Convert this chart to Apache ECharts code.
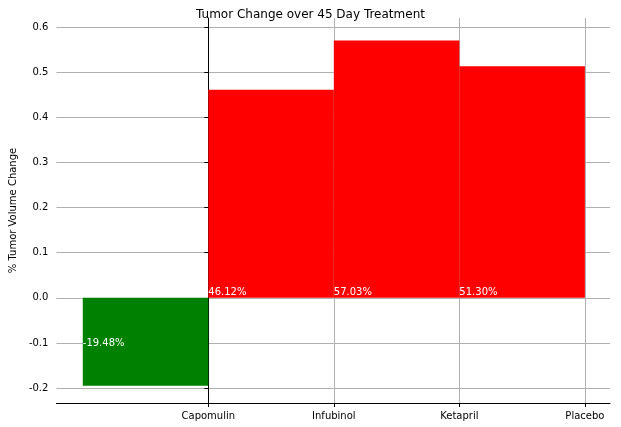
<!DOCTYPE html><html><head><meta charset="utf-8"><script src="https://cdn.jsdelivr.net/npm/echarts@6/dist/echarts.min.js"></script></head><body style="margin:0"><div id="c" style="width:621px;height:427px"></div><script>
const categories=['Capomulin','Infubinol','Ketapril','Placebo'];
const values=[-0.1948,0.4612,0.5703,0.5130];
const labels=['-19.48%','46.12%','57.03%','51.30%'];
const yTicks=[-0.2,-0.1,0,0.1,0.2,0.3,0.4,0.5,0.6];
const c=echarts.init(document.getElementById('c'));
const data=values.map((v,i)=>[i,v]);
c.setOption({animation:false,
title:{text:'Tumor Change over 45 Day Treatment',left:'center',top:4,textStyle:{fontSize:12,fontWeight:'normal',color:'#000',fontFamily:'DejaVu Sans'}},
grid:{left:52,right:11,top:18,bottom:24},
xAxis:{type:'value',min:-1.21,max:3.2,
 axisLine:{show:true,onZero:false,lineStyle:{color:'#000'}},
 axisTick:{customValues:[0,1,2,3],length:4,lineStyle:{color:'#000'}},
 axisLabel:{customValues:[0,1,2,3],formatter:v=>categories[Math.round(v)]||'',color:'#000',fontSize:10,fontFamily:'DejaVu Sans'},
 splitLine:{show:true,lineStyle:{color:'#b0b0b0'}}},
yAxis:{type:'value',min:-0.233,max:0.62,name:'% Tumor Volume Change',nameLocation:'middle',nameGap:36,nameTextStyle:{fontSize:10,color:'#000',fontFamily:'DejaVu Sans'},
 axisLine:{show:true,lineStyle:{color:'#000'}},
 axisTick:{show:true,customValues:yTicks,length:4,lineStyle:{color:'#000'}},
 axisLabel:{customValues:yTicks,formatter:v=>v.toFixed(1),color:'#000',fontSize:10,fontFamily:'DejaVu Sans'},
 splitLine:{show:true,lineStyle:{color:'#b0b0b0'}}},
series:[{type:'custom',data:data,renderItem:(p,api)=>{
 const i=api.value(0),v=api.value(1);
 const a=api.coord([i-1,v]),b=api.coord([i,0]);
 const neg=v<0;
 const ly=neg?api.coord([0,-0.1])[1]:b[1];
 return {type:'group',children:[
  {type:'rect',shape:{x:a[0],y:Math.min(a[1],b[1]),width:b[0]-a[0],height:Math.abs(b[1]-a[1])},style:{fill:neg?'#008000':'#ff0000'}},
  {type:'text',x:api.coord([i-1,0])[0],y:ly,style:{text:labels[i],fill:'#fff',fontSize:10,fontFamily:'DejaVu Sans',align:'left',verticalAlign:neg?'middle':'bottom'},z2:10}
 ]};
}}]});
</script></body></html>
